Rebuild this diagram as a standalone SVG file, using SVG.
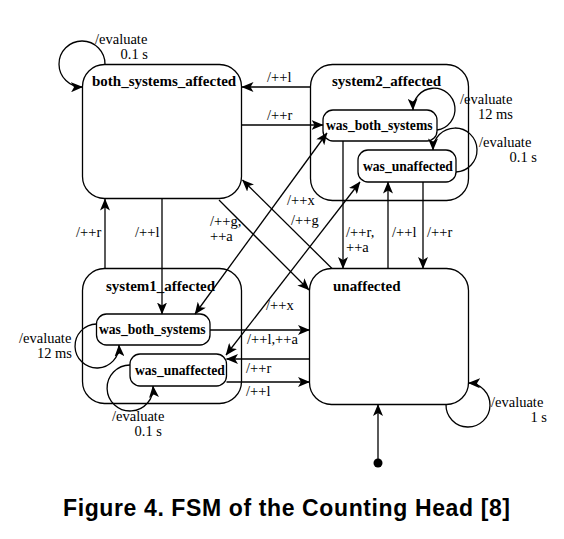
<svg xmlns="http://www.w3.org/2000/svg" width="564" height="539" viewBox="0 0 564 539">
<style>
.st{fill:#fff;stroke:#000;stroke-width:1.3}
.c{fill:none;stroke:#000;stroke-width:1.3;marker-end:url(#arr)}
.d{fill:none;stroke:#000;stroke-width:1.3;marker-end:url(#arr);marker-start:url(#arr)}
.n{font-family:"Liberation Serif","Times New Roman",serif;font-weight:bold;font-size:15px}
.ni{font-family:"Liberation Serif","Times New Roman",serif;font-weight:bold;font-size:13.6px}
.l{font-family:"Liberation Serif","Times New Roman",serif;font-size:14.5px}
</style>
<defs>
<marker id="arr" viewBox="0 0 12 10" refX="11.5" refY="5" markerWidth="12" markerHeight="10" markerUnits="userSpaceOnUse" orient="auto-start-reverse">
<path d="M0,0 L12,5 L0,10 L3,5 z" fill="#000"/>
</marker>
</defs>
<rect width="564" height="539" fill="#fff"/>

<g id="both_systems_affected">
<rect class="st" x="82.5" y="64.5" width="159" height="134" rx="22"/>
<text class="n" x="92" y="86">both_systems_affected</text>
</g>
<g id="system2_affected">
<rect class="st" x="310.5" y="64.5" width="158" height="136" rx="22"/>
<text class="n" x="332" y="86">system2_affected</text>
</g>
<g id="s2_was_both_systems">
<rect class="st" x="323" y="110" width="114" height="31" rx="10"/>
<text class="ni" x="326" y="130">was_both_systems</text>
</g>
<g id="s2_was_unaffected">
<rect class="st" x="358" y="150" width="98" height="32" rx="10"/>
<text class="ni" x="363" y="171">was_unaffected</text>
</g>
<g id="system1_affected">
<rect class="st" x="82.5" y="268.5" width="159" height="135" rx="22"/>
<text class="n" x="106" y="291">system1_affected</text>
</g>
<g id="s1_was_both_systems">
<rect class="st" x="96.5" y="314" width="113.5" height="31" rx="10"/>
<text class="ni" x="99" y="334">was_both_systems</text>
</g>
<g id="s1_was_unaffected">
<rect class="st" x="130" y="354" width="96.5" height="32" rx="10"/>
<text class="ni" x="135" y="375">was_unaffected</text>
</g>
<g id="unaffected">
<rect class="st" x="309.5" y="268.5" width="159" height="136" rx="22"/>
<text class="n" x="333" y="291">unaffected</text>
</g>
<g id="initial">
<circle cx="378" cy="463" r="4.5" fill="#000"/>
</g>

<g id="connectors">
<path class="c" d="M310.5,87 L242,87"/>
<path class="c" d="M241.5,125 L323,125"/>
<path class="c" d="M105,268.5 L105,199"/>
<path class="c" d="M162,198.5 L162,314"/>
<path class="c" d="M210,330 L309.5,330"/>
<path class="c" d="M309.5,359 L226.5,359"/>
<path class="c" d="M226.5,382 L309.5,382"/>
<path class="c" d="M343,141 L343,268.5"/>
<path class="c" d="M388,268.5 L388,182"/>
<path class="c" d="M423,182 L423,268.5"/>
<path class="c" d="M378,463 L378,404.5"/>
<path class="c" d="M219,200 L309,290"/>
<path class="c" d="M332,268.5 L242.5,180"/>
<path class="d" d="M195,314 L327,133"/>
<path class="d" d="M226,355 L360,182"/>
<path class="c" d="M105,64.5 A23,23 0 1 0 82.5,87"/>
<path class="c" d="M446,404.5 A22,22 0 1 0 468.5,383"/>
<path class="c" d="M437,130 A21,21 0 1 0 413,110"/>
<path class="c" d="M456,172 A22,22 0 1 0 433,150"/>
<path class="c" d="M96.5,324 A22,22 0 1 0 119,345"/>
<path class="c" d="M130,365 A23,23 0 1 0 153,386"/>
</g>

<g id="labels">
<text class="l" x="95" y="43.5">/evaluate<tspan x="148" dy="15.5" text-anchor="end">0.1 s</tspan></text>
<text class="l" x="460" y="103.5">/evaluate<tspan x="513" dy="15.5" text-anchor="end">12 ms</tspan></text>
<text class="l" x="479" y="146.5">/evaluate<tspan x="537" dy="15.5" text-anchor="end">0.1 s</tspan></text>
<text class="l" x="19" y="342.5">/evaluate<tspan x="72" dy="15.5" text-anchor="end">12 ms</tspan></text>
<text class="l" x="112" y="420.5">/evaluate<tspan x="162" dy="15.5" text-anchor="end">0.1 s</tspan></text>
<text class="l" x="491" y="406.5">/evaluate<tspan x="547" dy="15.5" text-anchor="end">1 s</tspan></text>
<text class="l" x="267" y="82">/++l</text>
<text class="l" x="267" y="120">/++r</text>
<text class="l" x="76" y="237">/++r</text>
<text class="l" x="135" y="237">/++l</text>
<text class="l" x="210" y="225.5">/++g,<tspan x="210" dy="15.5">++a</tspan></text>
<text class="l" x="287" y="204.5">/++x</text>
<text class="l" x="291" y="224.5">/++g</text>
<text class="l" x="346" y="236.5">/++r,<tspan x="346" dy="15.5">++a</tspan></text>
<text class="l" x="392" y="237">/++l</text>
<text class="l" x="427" y="237">/++r</text>
<text class="l" x="266" y="310">/++x</text>
<text class="l" x="247" y="344">/++l,++a</text>
<text class="l" x="246" y="373">/++r</text>
<text class="l" x="246" y="396">/++l</text>
</g>

<text x="63" y="516" font-family="'Liberation Sans',Arial,sans-serif" font-weight="bold" font-size="23" textLength="447" lengthAdjust="spacing">Figure 4. FSM of the Counting Head [8]</text>
</svg>
